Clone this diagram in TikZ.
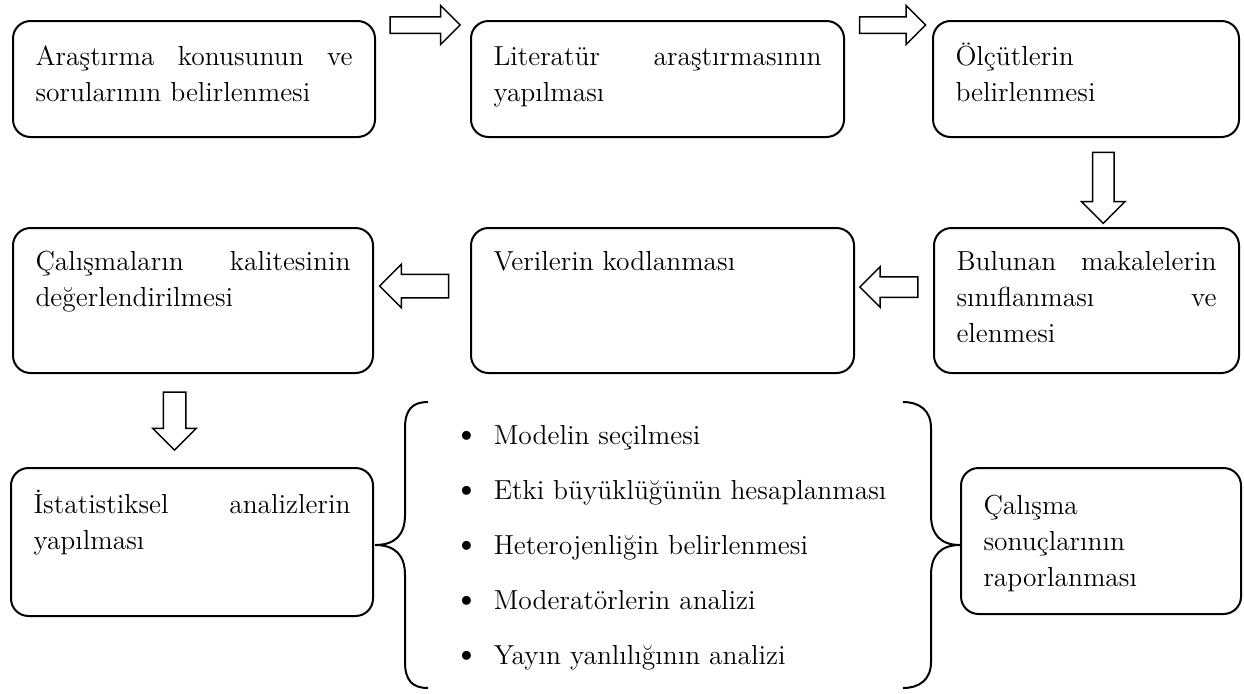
\documentclass[tikz,border=0pt]{standalone}
\usepackage{tikz}
\usetikzlibrary{shapes.arrows, calc}
\hyphenpenalty=10000
\exhyphenpenalty=10000

\begin{document}
\begin{tikzpicture}[x=0.4pt, y=-0.4pt,
  stepbox/.style n args={3}{draw, line width=0.8pt, rounded corners=7pt, anchor=north west,
    align=justify, inner xsep=9pt, inner ysep=0pt, text width=#1, text height=#2, text depth=#3,
    font=\fontsize{11}{14.4}\selectfont},
  blockarrow/.style={single arrow, draw, line width=0.6pt, inner xsep=0pt, single arrow tip angle=90},
  listitem/.style={anchor=base west, inner sep=0pt, font=\fontsize{11}{14.4}\selectfont}]
\useasboundingbox (0,0) rectangle (1244,693);

% first row
\node[stepbox={126.8pt}{17.6pt}{28.8pt}] (konu) at (12,20)
  {Araştırma konusunun ve\linebreak sorularının belirlenmesi};
\node[stepbox={131.2pt}{17.6pt}{28.8pt}] (lit) at (470,20)
  {Literatür araştırmasının\linebreak yapılması};
\node[stepbox={104.4pt}{17.6pt}{28.8pt}] (olcut) at (932,20)
  {Ölçütlerin\\ belirlenmesi};

% second row
\node[stepbox={126pt}{16.8pt}{41.2pt}] (kalite) at (12,227)
  {Çalışmaların kalitesinin\linebreak değerlendirilmesi};
\node[stepbox={135.2pt}{16.8pt}{41.2pt}] (kod) at (470,227)
  {Verilerin kodlanması};
\node[stepbox={104pt}{16.8pt}{41.2pt}] (makale) at (933,227)
  {Bulunan makalelerin\linebreak sınıflanması ve\linebreak elenmesi};

% third row
\node[stepbox={126.8pt}{18pt}{41.2pt}] (analiz) at (10,467)
  {İstatistiksel analizlerin\linebreak yapılması};
\node[stepbox={94pt}{18.4pt}{40pt}] (rapor) at (960,467)
  {Çalışma\\ sonuçlarının\\ raporlanması};

% block arrows
\node[blockarrow, inner ysep=3pt, single arrow head extend=4.5pt, minimum height=28pt]
  (a1) at ($(konu.north east)!0.5!(lit.north west)+(-2,5)$) {};
\node[blockarrow, inner ysep=3pt, single arrow head extend=4.5pt, minimum height=26.4pt]
  (a2) at ($(lit.north east)!0.5!(olcut.north west)+(0,5)$) {};
\node[blockarrow, inner ysep=4pt, single arrow head extend=4.4pt, minimum height=28.4pt, rotate=-90]
  (a3) at ($(olcut.south)!0.5!(makale.north)+(17,0)$) {};
\node[blockarrow, inner ysep=3.8pt, single arrow head extend=4pt, minimum height=23.2pt, rotate=180]
  (a4) at ($(kod.north east)!0.5!(makale.north west)+(0,60)$) {};
\node[blockarrow, inner ysep=4.4pt, single arrow head extend=4pt, minimum height=27.6pt, rotate=180]
  (a5) at ($(kalite.north east)!0.5!(kod.north west)+(-2,59)$) {};
\node[blockarrow, inner ysep=4.2pt, single arrow head extend=4.2pt, minimum height=23.2pt, rotate=-90]
  (a6) at ($(kalite.south)!0.5!(analiz.north)+(-18,-5)$) {};

% analysis steps
\foreach \txt [count=\i] in {Modelin seçilmesi, Etki büyüklüğünün hesaplanması,
    Heterojenliğin belirlenmesi, Moderatörlerin analizi, Yayın yanlılığının analizi}
  \node[listitem] (m\i) at (452,389+55*\i)
    {\makebox[16.5pt][l]{\raisebox{-0.9pt}{\fontsize{16}{16}\selectfont\textbullet}}\txt};

% braces
\coordinate (ltip) at (375,545);
\coordinate (rtip) at (960,545);
\draw[line width=0.8pt] (428,402) .. controls (412,402) and (405,410) .. (405,428) -- (405,515)
  .. controls (405,535) and (395,545) .. (ltip) .. controls (395,545) and (405,555) .. (405,575)
  -- (405,662) .. controls (405,680) and (412,688) .. (428,688);
\draw[line width=0.8pt] (903,402) .. controls (919,402) and (931,410) .. (931,428) -- (931,515)
  .. controls (931,535) and (941,545) .. (rtip) .. controls (941,545) and (931,555) .. (931,575)
  -- (931,662) .. controls (931,680) and (919,688) .. (903,688);
\end{tikzpicture}
\end{document}
